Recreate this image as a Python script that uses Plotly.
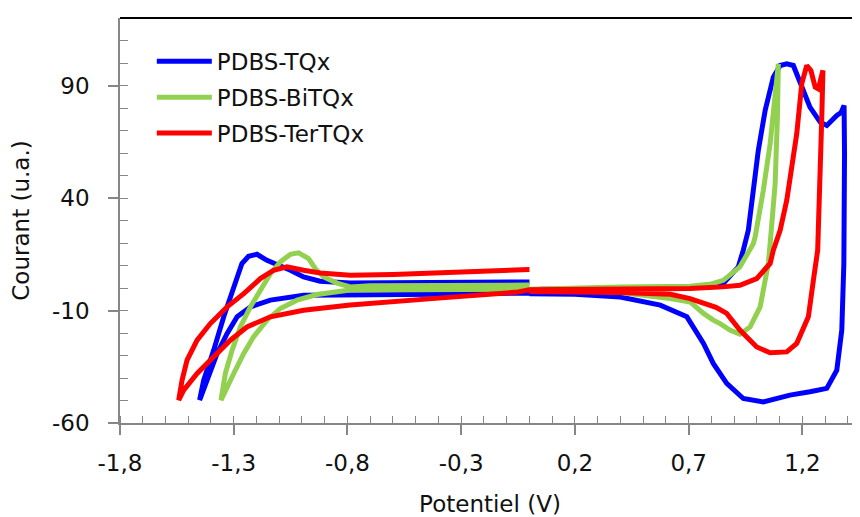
import plotly.graph_objects as go

# ---------------- data ----------------
series_names = ["PDBS-TQx", "PDBS-BiTQx", "PDBS-TerTQx"]
series_colors = ["#0000FF", "#92D050", "#FF0000"]

# PDBS-TQx : potential (V) and current (u.a.)
tqx_v = [0.00, -0.30, -0.60, -0.788, -0.920, -0.993, -1.051, -1.110, -1.154, -1.198, -1.235,
         -1.264, -1.300, -1.344, -1.388, -1.432, -1.450,
         -1.417, -1.373, -1.329, -1.285, -1.227, -1.139, -0.993, -0.75, -0.40, 0.00,
         0.05, 0.40, 0.70, 0.78, 0.852, 0.918, 0.940, 0.962, 0.984, 1.006, 1.036, 1.072,
         1.102, 1.131, 1.160, 1.204, 1.233, 1.278, 1.307, 1.351, 1.370, 1.383,
         1.385, 1.382, 1.373, 1.351, 1.307, 1.233, 1.145, 1.028, 0.940, 0.867, 0.808,
         0.765, 0.706, 0.692, 0.575, 0.399, 0.20, 0.00]
tqx_i = [2.7, 2.4, 2.2, 2.2, 3.0, 4.9, 7.9, 10.1, 12.3, 15.0, 14.1,
         10.9, 0.5, -12.8, -27.6, -40.9, -49.8,
         -40.9, -29.1, -20.2, -12.8, -8.4, -5.4, -3.2, -3.2, -2.8, -2.2,
         -0.5, -0.3, 0.3, 0.5, 2.0, 9.4, 16.8, 25.6, 43.4, 61.2, 78.9, 93.7,
         98.9, 99.6, 98.9, 87.8, 80.4, 73.7, 72.2, 76.7, 78.0, 81.1,
         60.0, 10.9, -18.7, -36.5, -44.6, -46.1, -47.6, -50.6, -49.1, -42.4, -33.5,
         -24.6, -15.8, -12.8, -7.6, -4.0, -2.8, -2.5]

# PDBS-BiTQx
bitqx_v = [0.00, -0.40, -0.70, -0.788, -0.846, -0.905, -0.941, -0.971, -1.015, -1.051, -1.095,
           -1.139, -1.183, -1.227, -1.271, -1.307, -1.337, -1.356,
           -1.300, -1.256, -1.213, -1.154, -1.095, -1.022, -0.934, -0.788, -0.50, 0.00,
           0.40, 0.706, 0.80, 0.852, 0.925, 0.984, 0.992, 1.028, 1.058, 1.084, 1.094,
           1.090, 1.080, 1.058, 1.050, 1.014, 0.970, 0.925, 0.881, 0.838, 0.808, 0.765,
           0.706, 0.619, 0.40, 0.20, 0.00]
bitqx_i = [1.3, 1.2, 1.0, 0.5, 2.2, 4.9, 8.6, 13.1, 15.6, 15.0, 11.6,
           6.4, -1.0, -8.4, -17.3, -27.6, -38.0, -49.8,
           -38.0, -29.1, -21.7, -14.3, -9.1, -5.4, -2.9, -0.9, -0.8, -0.5,
           0.4, 0.8, 1.8, 3.4, 9.4, 19.7, 22.7, 43.4, 64.1, 87.8, 99.6,
           75.9, 46.4, 19.7, 10.9, -8.4, -17.3, -20.5, -18.7, -15.8, -14.3, -11.3,
           -6.2, -4.7, -2.0, -1.0, -0.5]

# PDBS-TerTQx
tertqx_v = [0.00, -0.30, -0.60, -0.788, -0.920, -0.993, -1.066, -1.125, -1.183, -1.256, -1.329,
            -1.403, -1.461, -1.505, -1.527, -1.542,
            -1.520, -1.461, -1.388, -1.315, -1.242, -1.139, -0.993, -0.788, -0.40, -0.05,
            0.00, 0.40, 0.706, 0.85, 0.925, 0.999, 1.058, 1.072, 1.102, 1.131, 1.175, 1.197,
            1.219, 1.237, 1.256, 1.270, 1.290,
            1.285, 1.278, 1.267, 1.248, 1.226, 1.175, 1.131, 1.058, 0.999, 0.925, 0.867,
            0.82, 0.765, 0.706, 0.62, 0.40, 0.00]
tertqx_i = [8.2, 7.0, 6.0, 5.7, 6.7, 7.9, 9.4, 7.9, 4.2, -2.5, -8.4,
            -15.8, -23.2, -32.0, -40.9, -49.8,
            -45.4, -38.0, -30.6, -23.2, -17.3, -12.8, -9.9, -7.6, -4.5, -1.8,
            -0.8, -0.6, -0.2, 0.5, 1.2, 4.2, 10.9, 16.8, 25.6, 39.0, 68.6, 90.8,
            98.9, 96.7, 89.3, 88.5, 96.7,
            75.9, 46.4, 16.8, 3.4, -12.8, -24.6, -28.4, -28.8, -26.2, -18.7, -11.3,
            -8.6, -6.5, -4.7, -2.8, -2.0, -1.5]

x_tick_vals = [-1.8, -1.3, -0.8, -0.3, 0.2, 0.7, 1.2]
x_tick_text = ["-1,8", "-1,3", "-0,8", "-0,3", "0,2", "0,7", "1,2"]
y_tick_vals = [-60, -10, 40, 90]
y_tick_text = ["-60", "-10", "40", "90"]

x_title = "Potentiel (V)"
y_title = "Courant (u.a.)"

# ---------------- figure ----------------
FONT = "DejaVu Sans"
FS = 23
TXT = "#111111"
AXIS_GRAY = "#868686"

fig = go.Figure()
for name, color, xs, ys in zip(series_names, series_colors,
                               [tqx_v, bitqx_v, tertqx_v],
                               [tqx_i, bitqx_i, tertqx_i]):
    fig.add_trace(go.Scatter(x=xs, y=ys, mode="lines", name=name, legendgroup=name,
                             line=dict(color=color, width=5)))

axis_common = dict(
    showline=True, linecolor=AXIS_GRAY, linewidth=1.5,
    ticks="outside", ticklen=10, tickwidth=1.5, tickcolor=AXIS_GRAY,
    showgrid=False, zeroline=False, automargin=False,
    tickfont=dict(family=FONT, size=FS, color=TXT),
    tickmode="array",
)

# the page body adds an 8 px offset, so the figure is 852x509 with margins trimmed by 8 px
fig.update_layout(
    width=852, height=509,
    margin=dict(l=112, r=0, t=10, b=94, pad=0),
    paper_bgcolor="white", plot_bgcolor="white",
    font=dict(family=FONT, size=FS, color=TXT),
    showlegend=True,
    legend=dict(x=0.043, y=0.946, xanchor="left", yanchor="top",
                bgcolor="rgba(0,0,0,0)", font=dict(family=FONT, size=FS, color=TXT),
                tracegroupgap=3, itemwidth=55),
    xaxis=dict(axis_common, range=[-1.8, 1.453], tickvals=x_tick_vals, ticktext=x_tick_text,
               ticklabelstandoff=9,
               minor=dict(ticks="inside", ticklen=7, tickwidth=1.2, tickcolor=AXIS_GRAY,
                          tickmode="linear", tick0=-1.8, dtick=0.1),
               title=dict(text=x_title, font=dict(family=FONT, size=FS, color=TXT),
                          standoff=23)),
    yaxis=dict(axis_common, range=[-60, 120], tickvals=y_tick_vals, ticktext=y_tick_text,
               ticklabelstandoff=14,
               minor=dict(ticks="inside", ticklen=8, tickwidth=1.2, tickcolor=AXIS_GRAY,
                          tickmode="linear", tick0=-60, dtick=10),
               title=dict(text=y_title, font=dict(family=FONT, size=FS, color=TXT),
                          standoff=16)),
    shapes=[dict(type="line", xref="paper", yref="paper", x0=0, x1=1, y0=1, y1=1,
                 line=dict(color="#000000", width=2))],
)

fig.write_html("out.html")
